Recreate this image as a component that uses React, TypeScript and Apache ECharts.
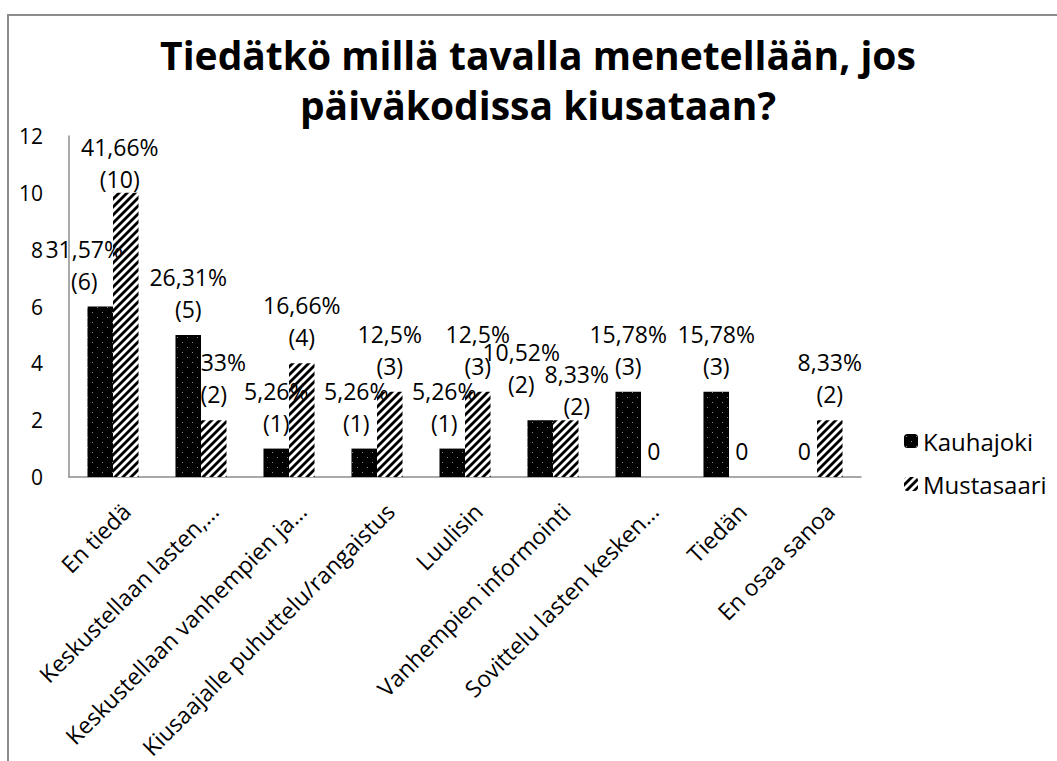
import React, { useEffect, useRef } from "react";
import * as echarts from "echarts";

const categories = [
  "En tiedä",
  "Keskustellaan lasten,…",
  "Keskustellaan vanhempien ja…",
  "Kiusaajalle puhuttelu/rangaistus",
  "Luulisin",
  "Vanhempien informointi",
  "Sovittelu lasten kesken…",
  "Tiedän",
  "En osaa sanoa",
];
const kauhajoki = [6, 5, 1, 1, 1, 2, 3, 3, 0];
const kauhajokiPct = ["31,57%", "26,31%", "5,26%", "5,26%", "5,26%", "10,52%", "15,78%", "15,78%", ""];
const mustasaari = [10, 2, 4, 3, 3, 2, 0, 0, 2];
const mustasaariPct = ["41,66%", "8,33%", "16,66%", "12,5%", "12,5%", "8,33%", "", "", "8,33%"];
const yTicks = { min: 0, max: 12, interval: 2 };

const FONT = "'Open Sans', sans-serif";

// label placement tweaks (styling only), keyed by category index
const kLabelOffsets: Record<number, number[]> = { 0: [-16, 0], 3: [-8, 0], 4: [-8, 0], 5: [-19, -10] };
const mLabelOffsets: Record<number, number[]> = { 0: [-6, 12], 5: [11, 12] };

function dotsPattern(): HTMLCanvasElement {
  const c = document.createElement("canvas");
  c.width = 10;
  c.height = 10;
  const g = c.getContext("2d")!;
  g.fillStyle = "#000";
  g.fillRect(0, 0, 10, 10);
  g.fillStyle = "#8a8a8a";
  g.fillRect(2, 2, 1, 1);
  g.fillRect(7, 7, 1, 1);
  return c;
}

function stripePattern(): HTMLCanvasElement {
  const s = 8;
  const c = document.createElement("canvas");
  c.width = s;
  c.height = s;
  const g = c.getContext("2d")!;
  g.fillStyle = "#fff";
  g.fillRect(0, 0, s, s);
  g.strokeStyle = "#000";
  g.lineWidth = 2.8;
  for (const k of [-s, 0, s]) {
    g.beginPath();
    g.moveTo(k - 1, s + 1);
    g.lineTo(k + s + 1, -1);
    g.stroke();
  }
  return c;
}

export default function App() {
  const ref = useRef<HTMLDivElement>(null);
  useEffect(() => {
    if (!ref.current) return;
    const chart = echarts.init(ref.current, undefined, { renderer: "svg" });
    const kColor: any = { image: dotsPattern(), repeat: "repeat", imageWidth: 10, imageHeight: 10 };
    const mColor: any = { image: stripePattern(), repeat: "repeat", imageWidth: 8, imageHeight: 8 };

    const labelFor = (vals: number[], pcts: string[]) => (p: any) => {
      const v = vals[p.dataIndex];
      if (v === 0) return "0";
      return pcts[p.dataIndex] + "\n(" + v + ")";
    };

    const baseLabel = {
      show: true,
      position: "top" as const,
      distance: 10,
      fontFamily: FONT,
      fontSize: 23,
      lineHeight: 32,
      color: "#000",
    };

    const withOffsets = (vals: number[], offs: Record<number, number[]>) =>
      vals.map((v, i) => (offs[i] ? { value: v, label: { offset: offs[i] } } : v));

    chart.setOption({
      animation: false,
      backgroundColor: "#fff",
      title: {
        text: "Tiedätkö millä tavalla menetellään, jos\npäiväkodissa kiusataan?",
        left: 533,
        textAlign: "center",
        top: 24,
        textStyle: {
          fontFamily: FONT,
          fontWeight: "bold",
          fontSize: 39,
          lineHeight: 50,
          color: "#000",
        },
      },
      graphic: [
        {
          type: "rect",
          z: -10,
          shape: { x: 8, y: 15, width: 1100, height: 800 },
          style: { fill: "none", stroke: "#8c8c8c", lineWidth: 2 },
        },
      ],
      legend: {
        orient: "vertical",
        left: 899,
        top: 424,
        itemWidth: 14,
        itemHeight: 14,
        itemGap: 19,
        textStyle: { fontFamily: FONT, fontSize: 24, color: "#000" },
        data: ["Kauhajoki", "Mustasaari"],
      },
      grid: {
        left: 69,
        right: 196,
        top: 136,
        bottom: 284,
        containLabel: false,
        outerBoundsMode: "none",
      },
      xAxis: {
        type: "category",
        data: categories,
        axisLine: { show: true, lineStyle: { color: "#8c8c8c", width: 1.5 } },
        axisTick: { show: false },
        axisLabel: {
          rotate: 45,
          interval: 0,
          margin: 17,
          align: "right",
          verticalAlign: "top",
          lineHeight: 37,
          fontFamily: FONT,
          fontSize: 23,
          color: "#000",
        },
      },
      yAxis: {
        type: "value",
        min: yTicks.min,
        max: yTicks.max,
        interval: yTicks.interval,
        axisLine: { show: true, lineStyle: { color: "#8c8c8c", width: 1.5 } },
        axisTick: { show: false },
        splitLine: { show: false },
        axisLabel: { fontFamily: FONT, fontSize: 21, color: "#000", margin: 26 },
      },
      series: [
        {
          name: "Kauhajoki",
          type: "bar",
          data: withOffsets(kauhajoki, kLabelOffsets),
          barGap: "0%",
          barCategoryGap: "42%",
          itemStyle: { color: kColor },
          label: { ...baseLabel, formatter: labelFor(kauhajoki, kauhajokiPct) },
        },
        {
          name: "Mustasaari",
          type: "bar",
          data: withOffsets(mustasaari, mLabelOffsets),
          barGap: "0%",
          barCategoryGap: "42%",
          itemStyle: { color: mColor },
          label: { ...baseLabel, formatter: labelFor(mustasaari, mustasaariPct) },
        },
      ],
    });
    return () => chart.dispose();
  }, []);
  return (
    <div
      ref={ref}
      style={{ position: "fixed", left: 0, top: 0, width: 1057, height: 761, background: "#fff" }}
    />
  );
}
